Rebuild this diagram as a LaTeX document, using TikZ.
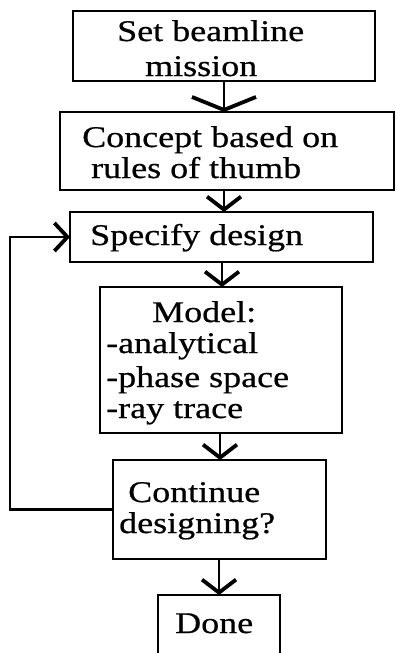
\documentclass[tikz,border=0pt]{standalone}
\usepackage{fontspec}
\setmainfont[FakeStretch=1.2, FakeBold=0.6]{Liberation Serif}
\usetikzlibrary{arrows.meta}

\tikzset{
  box/.style={draw=black, line width=2.5pt, inner sep=0pt, outer sep=0pt},
  txt/.style={inner sep=0pt, anchor=base west, font=\fontsize{30}{33}\selectfont},
  flow/.style={line width=2pt, -{Straight Barb[length=13pt, width=34pt, line width=3.8pt]}},
  flowwide/.style={line width=2pt, -{Straight Barb[length=13pt, width=64pt, line width=3.8pt]}},
  loopline/.style={line width=2.5pt, -{Straight Barb[length=13pt, width=28pt, line width=3.8pt]}}
}

\begin{document}
\begin{tikzpicture}[x=1pt, y=-1pt]
  \useasboundingbox (0,0) rectangle (396,653);

  % boxes of the design loop
  \node[box, minimum width=302pt, minimum height=70pt] (b1) at (224,46) {};
  \node[box, minimum width=334pt, minimum height=78pt] (b2) at (227,151) {};
  \node[box, minimum width=303pt, minimum height=50pt] (b3) at (221.5,237) {};
  \node[box, minimum width=242pt, minimum height=146pt] (b4) at (221,360) {};
  \node[box, minimum width=213pt, minimum height=99pt] (b5) at (219.5,509.5) {};
  \node[box, minimum width=122pt, minimum height=75pt] (b6) at (219,632.5) {};

  % box texts, one node per line
  \node[txt] (t1a) at (117,41) {Set beamline};
  \node[txt] (t1b) at (145,76) {mission};
  \node[txt] (t2a) at (82,147) {Concept based on};
  \node[txt] (t2b) at (91,178) {rules of thumb};
  \node[txt] (t3)  at (90,245) {Specify design};
  \node[txt] (t4a) at (152,322) {Model:};
  \node[txt] (t4b) at (106,353) {-analytical};
  \node[txt] (t4c) at (106,387) {-phase space};
  \node[txt] (t4d) at (106,418) {-ray trace};
  \node[txt] (t5a) at (128,502) {Continue};
  \node[txt] (t5b) at (119,533) {designing?};
  \node[txt] (t6)  at (175,633) {Done};

  % downward flow
  \draw[flowwide] (b1.south) -- ([xshift=-3pt]b2.north);
  \draw[flow] ([xshift=-3pt]b2.south) -- ([xshift=2.5pt]b3.north);
  \draw[flow] ([xshift=0.5pt]b3.south) -- ([xshift=1pt]b4.north);
  \draw[flow] ([xshift=-1pt]b4.south) -- ([xshift=0.5pt]b5.north);
  \draw[flow] ([xshift=-0.5pt]b5.south) -- (b6.north);

  % feedback loop back to the design specification
  \coordinate (loopx) at (10,0);
  \draw[loopline] (b5.west) -- (b5.west -| loopx) |- (b3.west);
\end{tikzpicture}
\end{document}
